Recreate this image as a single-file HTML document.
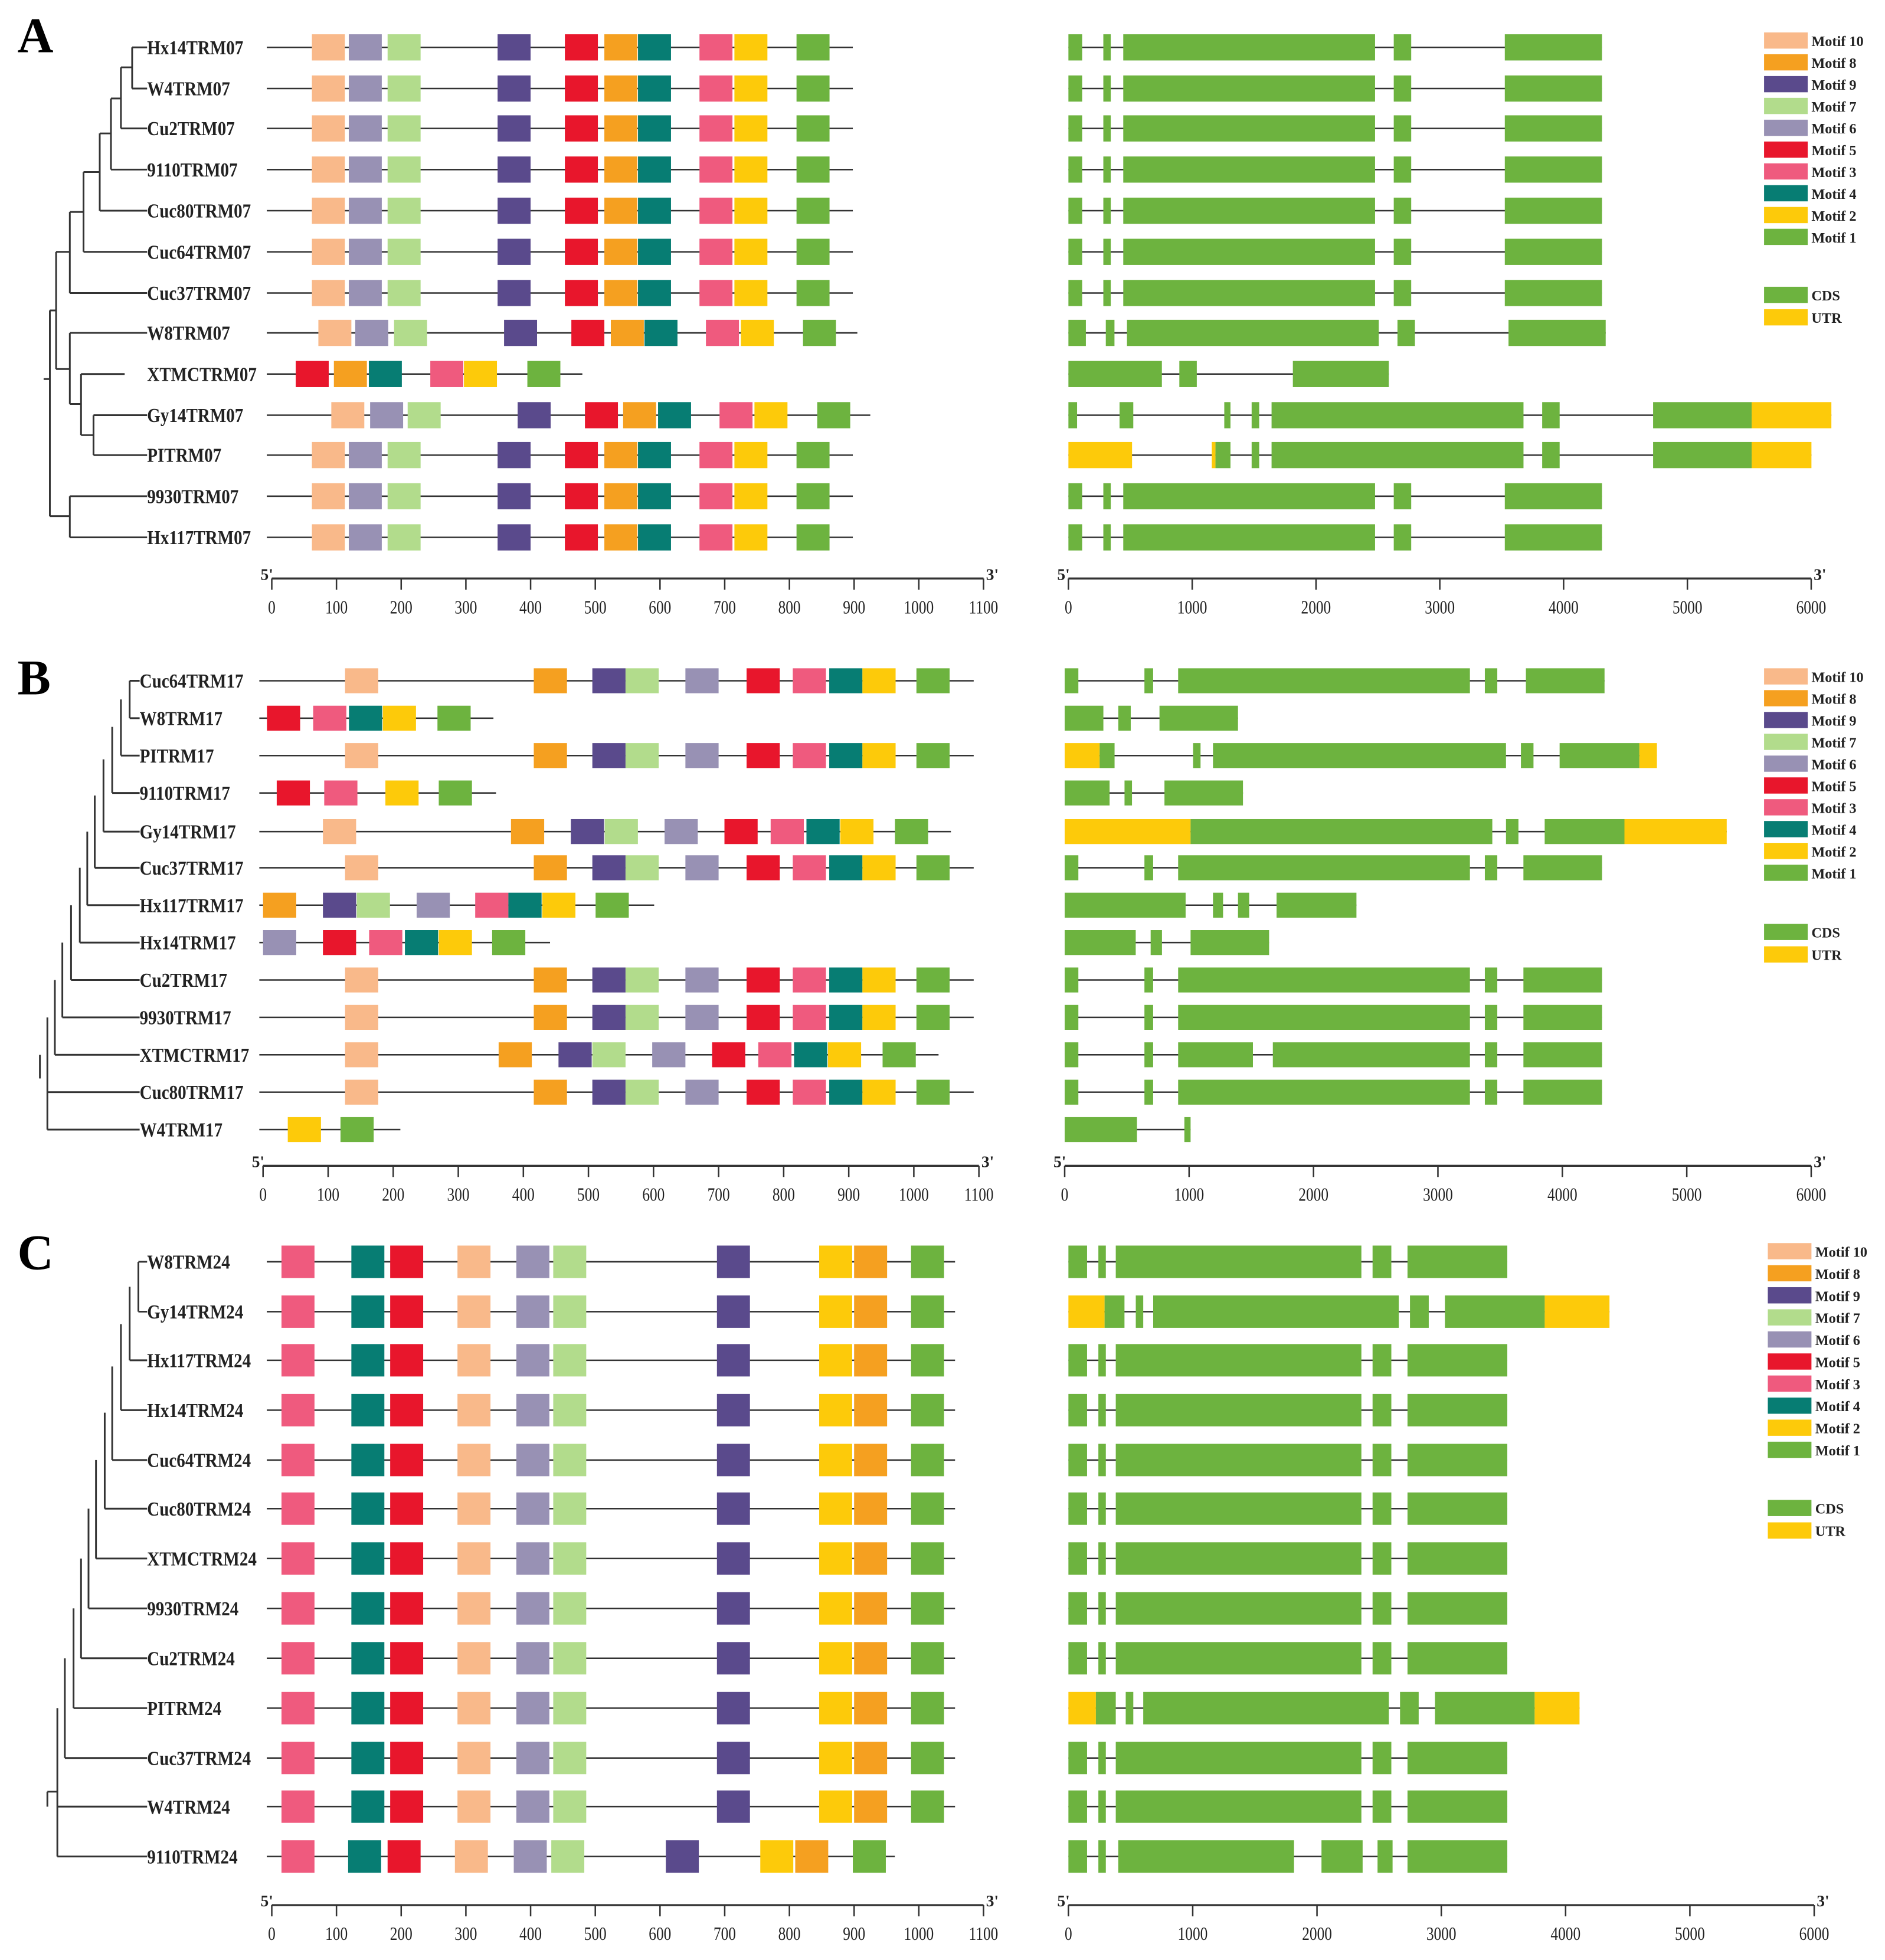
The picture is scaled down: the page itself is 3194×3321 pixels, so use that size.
<!DOCTYPE html>
<html><head><meta charset="utf-8"><title>Motif and gene structure of TRM genes</title>
<style>html,body{margin:0;padding:0;background:#fff}svg{display:block}</style></head>
<body>
<svg id="fig" xmlns="http://www.w3.org/2000/svg" width="3194" height="3321" viewBox="0 0 1512 1572" preserveAspectRatio="none" font-family="'Liberation Serif', serif">
<rect width="1512" height="1572" fill="#fff"/>
<g id="trees" stroke="#333" stroke-width="1.4" fill="none">
<path d="M106 38V71M106 38H118M106 71H118M97 54V103M97 54H106M97 103H118M89 79V136M89 79H97M89 136H118M80 107V169M80 107H89M80 169H118M67 138V202M67 138H80M67 202H118M56 170V235M56 170H67M56 235H118"/>
<path d="M75 333V365M75 333H118M75 365H118M65 300V349M65 300H100M65 349H75M56 267V324M56 267H118M56 324H65M45 202V296M45 202H56M45 296H56M56 398V431M56 398H118M56 431H118M40 249V414M40 249H45M40 414H56M35 304H40"/>
<path d="M104 546V576M104 546H112M104 576H112M97 561V606M97 606H112M90 583V636M90 636H112M83 609V667M83 667H112M76 638V696M76 696H112M70 667V726M70 726H112M64 696V756M64 756H112M57 726V786M57 786H112M50 756V816M50 816H112M44 786V846M44 846H112M38 816V876M38 876H112M38 846V906M38 906H112M32 846V865"/>
<path d="M111 1012V1052M111 1012H118M111 1052H118M104 1032V1091M104 1091H118M97 1062V1131M97 1131H118M90 1096V1171M90 1171H118M84 1133V1210M84 1210H118M77 1171V1250M77 1250H118M71 1210V1290M71 1290H118M65 1250V1330M65 1330H118M59 1290V1370M59 1370H118M52 1330V1410M52 1410H118M46 1370V1449M46 1449H118M46 1410V1489M46 1489H118M38 1437V1449M38 1437H46"/>
</g>
<g id="content"></g>
<text x="14" y="42" font-size="40" font-weight="bold">A</text>
<text x="14" y="557" font-size="40" font-weight="bold">B</text>
<text x="14" y="1018" font-size="40" font-weight="bold">C</text>
</svg>
<script>
const motifColors = {10:'#f9b98a',8:'#f5a020',9:'#5a4a8c',7:'#b2dc8c',6:'#9891b4',5:'#e8162c',3:'#ef5a7e',4:'#077d73',2:'#fdca0a',1:'#6db33f'};
const legendMotifs = [10,8,9,7,6,5,3,4,2,1];
const STD_A = [[10,62],[6,119],[7,179],[9,349],[5,453],[8,514],[4,566],[3,661],[2,715],[1,811]];
const STD_B = [[10,126],[8,416],[9,506],[7,557],[6,649],[5,743],[3,814],[4,870],[2,921],[1,1004]];
const STD_C = [[3,15],[4,123],[5,183],[10,287],[6,378],[7,435],[9,688],[2,846],[8,900],[1,988]];
const GS_A = [[0,111,'C'],[282,342,'C'],[443,2477,'C'],[2628,2769,'C'],[3525,4310,'C']];
const GS_B = [[0,110,'C'],[641,711,'C'],[912,3257,'C'],[3377,3477,'C'],[3687,4319,'C']];
const GS_C = [[0,150,'C'],[241,301,'C'],[381,2357,'C'],[2447,2598,'C'],[2728,3531,'C']];

const genesA = ['Hx14TRM07','W4TRM07','Cu2TRM07','9110TRM07','Cuc80TRM07','Cuc64TRM07','Cuc37TRM07','W8TRM07','XTMCTRM07','Gy14TRM07','PITRM07','9930TRM07','Hx117TRM07'];
const protLenA = [898,898,898,898,898,898,898,905,480,925,898,898,898];
const motifsA = [STD_A,STD_A,STD_A,STD_A,STD_A,STD_A,STD_A,
  [[10,72],[6,129],[7,189],[9,359],[5,463],[8,524],[4,576],[3,671],[2,725],[1,821]],
  [[5,37],[8,96],[4,150],[3,245],[2,297],[1,395]],
  [[10,92],[6,152],[7,210],[9,380],[5,484],[8,543],[4,597],[3,692],[2,746],[1,843]],
  STD_A,STD_A,STD_A];
const geneLenA = [4310,4310,4310,4310,4310,4310,4310,4340,2588,6163,6002,4310,4310];
const structA = [GS_A,GS_A,GS_A,GS_A,GS_A,GS_A,GS_A,
  [[0,141,'C'],[302,372,'C'],[473,2507,'C'],[2658,2799,'C'],[3555,4340,'C']],
  [[0,755,'C'],[896,1037,'C'],[1813,2588,'C']],
  [[0,70,'C'],[413,524,'C'],[1259,1309,'C'],[1480,1541,'C'],[1641,3676,'C'],[3827,3968,'C'],[4723,5519,'C'],[5519,6163,'U']],
  [[0,514,'U'],[1158,1188,'U'],[1188,1309,'C'],[1480,1541,'C'],[1641,3676,'C'],[3827,3968,'C'],[4723,5519,'C'],[5519,6002,'U']],
  GS_A,GS_A];

const genesB = ['Cuc64TRM17','W8TRM17','PITRM17','9110TRM17','Gy14TRM17','Cuc37TRM17','Hx117TRM17','Hx14TRM17','Cu2TRM17','9930TRM17','XTMCTRM17','Cuc80TRM17','W4TRM17'];
const protLenB = [1092,354,1092,358,1057,1092,601,441,1092,1092,1038,1092,211];
const motifsB = [STD_B,
  [[5,6],[3,77],[4,132],[2,184],[1,268]],
  STD_B,
  [[5,21],[3,94],[2,188],[1,270]],
  [[10,92],[8,381],[9,473],[7,525],[6,617],[5,709],[3,780],[4,835],[2,887],[1,971]],
  STD_B,
  [[8,0],[9,92],[7,144],[6,236],[3,326],[4,377],[2,429],[1,511]],
  [[6,0],[5,92],[3,163],[4,218],[2,270],[1,352]],
  STD_B,STD_B,
  [[10,126],[8,362],[9,454],[7,506],[6,598],[5,690],[3,761],[4,816],[2,868],[1,952]],
  STD_B,
  [[2,38],[1,119]]];
const geneLenB = [4339,1393,4760,1433,5321,4319,2345,1643,4319,4319,4319,4319,1012];
const structB = [[[0,110,'C'],[641,711,'C'],[912,3257,'C'],[3377,3477,'C'],[3707,4339,'C']],
  [[0,311,'C'],[431,531,'C'],[762,1393,'C']],
  [[0,281,'U'],[281,401,'C'],[1032,1092,'C'],[1192,3547,'C'],[3667,3768,'C'],[3978,4619,'C'],[4619,4760,'U']],
  [[0,361,'C'],[481,541,'C'],[802,1433,'C']],
  [[0,1012,'U'],[1012,3437,'C'],[3547,3647,'C'],[3858,4499,'C'],[4499,5321,'U']],
  GS_B,
  [[0,972,'C'],[1192,1273,'C'],[1393,1483,'C'],[1703,2345,'C']],
  [[0,571,'C'],[691,782,'C'],[1012,1643,'C']],
  GS_B,GS_B,
  [[0,110,'C'],[641,711,'C'],[912,1513,'C'],[1673,3257,'C'],[3377,3477,'C'],[3687,4319,'C']],
  GS_B,
  [[0,581,'C'],[962,1012,'C']]];

const genesC = ['W8TRM24','Gy14TRM24','Hx117TRM24','Hx14TRM24','Cuc64TRM24','Cuc80TRM24','XTMCTRM24','9930TRM24','Cu2TRM24','PITRM24','Cuc37TRM24','W4TRM24','9110TRM24'];
const protLenC = [1056,1056,1056,1056,1056,1056,1056,1056,1056,1056,1056,1056,963];
const motifsC = [STD_C,STD_C,STD_C,STD_C,STD_C,STD_C,STD_C,STD_C,STD_C,STD_C,STD_C,STD_C,
  [[3,15],[4,118],[5,179],[10,283],[6,374],[7,432],[9,609],[2,755],[8,809],[1,898]]];
const geneLenC = [3531,4353,3531,3531,3531,3531,3531,3531,3531,4112,3531,3531,3531];
const structC = [GS_C,
  [[0,291,'U'],[291,451,'C'],[542,602,'C'],[682,2658,'C'],[2748,2899,'C'],[3029,3832,'C'],[3832,4353,'U']],
  GS_C,GS_C,GS_C,GS_C,GS_C,GS_C,GS_C,
  [[0,221,'U'],[221,381,'C'],[461,522,'C'],[602,2578,'C'],[2668,2818,'C'],[2949,3751,'C'],[3751,4112,'U']],
  GS_C,GS_C,
  [[0,150,'C'],[241,301,'C'],[401,1815,'C'],[2036,2367,'C'],[2487,2608,'C'],[2728,3531,'C']]];

const protTicks = [0,100,200,300,400,500,600,700,800,900,1000,1100];
const geneTicks = [0,1000,2000,3000,4000,5000,6000];
const MOTIF_LEN = 51;

const NS='http://www.w3.org/2000/svg';
const root=document.getElementById('content');
function el(tag,attrs,parent){const e=document.createElementNS(NS,tag);for(const k in attrs)e.setAttribute(k,attrs[k]);(parent||root).appendChild(e);return e;}
function condense(t,f){try{const w=t.getComputedTextLength();if(w>0){t.setAttribute('textLength',(w*f).toFixed(1));t.setAttribute('lengthAdjust','spacingAndGlyphs');}}catch(e){}}

function drawPanel(p){
  const g=el('g',{});
  
  
  const xL=a=>p.l0+a*p.lk, xR=b=>p.r0+b*p.rk;
  p.genes.forEach((name,i)=>{
    const y=p.rows[i];
    const row=el('g',{},g);
    
    
    el('line',{x1:p.lineStart,y1:y,x2:xL(p.plen[i]),y2:y,stroke:'#333','stroke-width':1.2},row);
    const t=el('text',{x:p.labelX,y:y+5.5,'font-size':16,'font-weight':'bold',fill:'#222'},row);
    t.textContent=name;
    
    
    condense(t,0.86);
    p.motifs[i].forEach(m=>{
      const r=el('rect',{x:xL(m[1]),y:y-p.h/2,width:MOTIF_LEN*p.lk,height:p.h,fill:motifColors[m[0]]},row);
      
      
    });
    el('line',{x1:xR(0),y1:y,x2:xR(p.glen[i]),y2:y,stroke:'#333','stroke-width':1.2},row);
    p.struct[i].forEach(s=>{
      const r=el('rect',{x:xR(s[0]),y:y-p.h/2,width:Math.max(1,(s[1]-s[0])*p.rk),height:p.h,fill:s[2]==='U'?'#fdca0a':'#6db33f'},row);
      
      
    });
  });
  function axis(x0,k,ticks,y,name){
    const a=el('g',{},g);
    
    
    const xe=x0+ticks[ticks.length-1]*k;
    el('line',{x1:x0,y1:y,x2:xe,y2:y,stroke:'#333','stroke-width':1.6},a);
    ticks.forEach(v=>{
      el('line',{x1:x0+v*k,y1:y,x2:x0+v*k,y2:y+9,stroke:'#333','stroke-width':1.2},a);
      const t=el('text',{x:x0+v*k,y:y+28,'font-size':15,'text-anchor':'middle',fill:'#222'},a);t.textContent=v;
      condense(t,0.8);
    });
    const t5=el('text',{x:x0-9,y:y+1,'font-size':13,'font-weight':'bold',fill:'#222'},a);t5.textContent="5'";
    const t3=el('text',{x:xe+2,y:y+1,'font-size':13,'font-weight':'bold',fill:'#222'},a);t3.textContent="3'";
  }
  axis(p.l0,p.lk,protTicks,p.axisY,'protein-length-axis');
  axis(p.r0,p.rk,geneTicks,p.axisY,'gene-length-axis');
  const lg=el('g',{},g);
  
  
  legendMotifs.forEach((m,j)=>{
    const y=p.legY+j*p.legStep;
    const e=el('g',{},lg);
    
    
    el('rect',{x:p.legX,y:y,width:35,height:13,fill:motifColors[m]},e);
    const t=el('text',{x:p.legX+38,y:y+11,'font-size':11.5,'font-weight':'bold',fill:'#222'},e);t.textContent='Motif '+m;
  });
  [['CDS','#6db33f'],['UTR','#fdca0a']].forEach((c,j)=>{
    const y=p.legY2+j*18;
    const e=el('g',{},lg);
    
    
    el('rect',{x:p.legX,y:y,width:35,height:13,fill:c[1]},e);
    const t=el('text',{x:p.legX+38,y:y+11,'font-size':11.5,'font-weight':'bold',fill:'#222'},e);t.textContent=c[0];
  });
}

drawPanel({id:'a',genes:genesA,plen:protLenA,motifs:motifsA,glen:geneLenA,struct:structA,
  rows:[38,71,103,136,169,202,235,267,300,333,365,398,431],h:21,l0:218,lk:0.519,r0:857,rk:0.0993,
  labelX:118,lineStart:214,axisY:464,legX:1415,legY:26,legStep:17.5,legY2:230});
drawPanel({id:'b',genes:genesB,plen:protLenB,motifs:motifsB,glen:geneLenB,struct:structB,
  rows:[546,576,606,636,667,696,726,756,786,816,846,876,906],h:20,l0:211,lk:0.522,r0:854,rk:0.0998,
  labelX:112,lineStart:208,axisY:935,legX:1415,legY:536,legStep:17.5,legY2:741});
drawPanel({id:'c',genes:genesC,plen:protLenC,motifs:motifsC,glen:geneLenC,struct:structC,
  rows:[1012,1052,1091,1131,1171,1210,1250,1290,1330,1370,1410,1449,1489],h:26,l0:218,lk:0.519,r0:857,rk:0.0997,
  labelX:118,lineStart:214,axisY:1528,legX:1418,legY:997,legStep:17.7,legY2:1203});
</script>
</body></html>
